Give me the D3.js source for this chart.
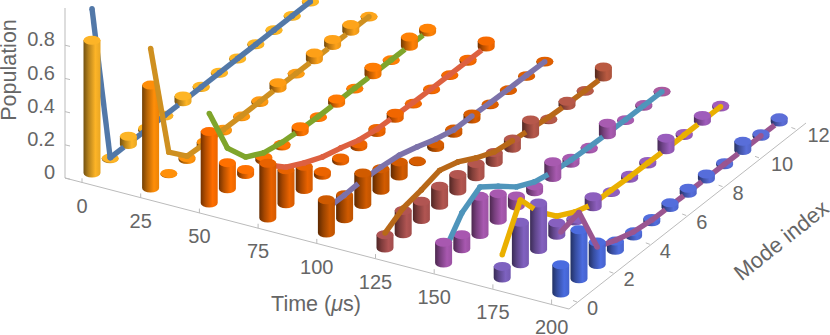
<!DOCTYPE html>
<html><head><meta charset="utf-8">
<script src="https://cdn.jsdelivr.net/npm/d3@7"></script>
<style>html,body{margin:0;padding:0;background:#fff}svg{display:block}text{font-family:"Liberation Sans",Arial,sans-serif;fill:#666}</style>
</head><body><svg id="c" width="830" height="335"></svg>
<script>
const times=[0,25,50,75,100,125,150,175,200];
const modes=[0,1,2,3,4,5,6,7,8,9,10,11,12];
const timeTicks=[0,25,50,75,100,125,150,175,200];
const modeTicks=[0,2,4,6,8,10,12];
const popTicks=[0,0.2,0.4,0.6,0.8];
const bars0=[.80,.004,.05,.012,.004,.035,.008,.006,.006,.006,.005,.005,.004];
const bars25=[.62,.002,.012,.02,.01,.004,.01,.033,.004,.04,.036,.04,.004];
const bars50=[.43,.157,.03,.02,.01,.03,.005,.025,.005,.045,.004,.055,.022];
const bars75=[.33,.205,.14,.022,.018,.018,.024,.03,.004,.005,.004,.012,.036];
const bars100=[.2,.145,.19,.13,.085,.004,.022,.025,.03,.005,.004,.003,.005];
const bars125=[.08,.14,.11,.115,.10,.08,.06,.055,.085,.005,.025,.005,.06];
const bars150=[.125,.085,.23,.16,.06,.035,.095,.03,.01,.07,.005,.01,.005];
const bars175=[.07,.25,.28,.075,.015,.06,.005,.018,.015,.07,.012,.035,.01];
const bars200=[.17,.295,.135,.055,.025,.02,.028,.03,.03,.012,.055,.015,.025];
const line0=[.99,.006,.005,.004,.004,.003,.003,.003,.003,.002,.002,.002,.002];
const line25=[.84,.13,.02,.012,.008,.006,.005,.005,.004,.003,.003,.002,.002];
const line50=[.54,.245,.105,.045,.022,.012,.006,.005,.005,.004,.003,.002,.002];
const line75=[.32,.22,.16,.11,.078,.04,.02,.015,.01,.007,.005,.004,.003];
const line100=[.145,.143,.148,.14,.125,.09,.05,.02,.018,.012,.008,.006,.002];
const line125=[.09,.155,.178,.21,.175,.113,.063,.045,.03,.015,.008,.004,.002];
const line150=[.06,.215,.286,.205,.115,.06,.033,.02,.012,.008,.005,.004,.002];
const line175=[.14,.385,.226,.115,.055,.017,.015,.008,.006,.003,.003,.002,.002];
const line200=[.367,.40,.105,.06,.025,.01,.008,.006,.005,.004,.003,.003,.002];
const barSeries=[bars0,bars25,bars50,bars75,bars100,bars125,bars150,bars175,bars200];
const lineSeries=[line0,line25,line50,line75,line100,line125,line150,line175,line200];
const lineColors=["#5278A8","#CF9020","#7FA52B","#DD6040","#7C72AA","#B86818","#4F95BB","#EAB000","#9A5590"];
const colorStops=[-.1,0,.125,.25,.375,.5,.55,.625,.68,.75,.8,.875,.92,1];
const barColors=["#FFB820","#FDB427","#FF8E08","#FF6E00","#E86200","#CE5A00","#B85A48","#B05454","#A85CB0","#A858B0","#A05CBC","#7E62C0","#5C6ED8","#4A6CE0"];

const svg=d3.select("#c"),defs=svg.append("defs");
const tX=d3.scaleLinear([0,200],[92,92+8*58.6]);
const tY=d3.scaleLinear([0,200],[0,120]);
const mX=d3.scaleLinear([0,12],[0,218.4]);
const mY=d3.scaleLinear([0,12],[173,2]);
const zH=d3.scaleLinear([0,1],[0,166]);
const color=d3.scaleLinear(colorStops,barColors).interpolate(d3.interpolateRgb);
const px=(t,m)=>tX(t)+mX(m), py=(t,m,p)=>tY(t)+mY(m)-zH(p);
const RX=8.5,RY=4.5,LW=5.4,TRIM=.25,FS=20;

// axes
const axisZ=d3.scaleLinear([0,1],[178,12]);
const axisT=d3.scaleLinear([0,200],[82,82+8*58.7]);
const axisTY=d3.scaleLinear([0,200],[182.8,182.8+8*15.15]);
const axisMX=d3.scaleLinear([0,12],[577,795.4]);
const axisMY=d3.scaleLinear([0,12],[302,129]);
const ax=svg.append("g").attr("stroke","#bbb").attr("fill","none");
ax.append("path").attr("d","M65,8L65,178L569,309L806,123");
popTicks.forEach(p=>{ax.append("line").attr("x1",65).attr("x2",70).attr("y1",axisZ(p)).attr("y2",axisZ(p)+1.2);
 svg.append("text").attr("x",55).attr("y",axisZ(p)-6).attr("dy","0.36em").attr("text-anchor","end").attr("font-size",FS).text(p===0?"0":d3.format(".1f")(p));});
timeTicks.forEach(t=>{ax.append("line").attr("x1",axisT(t)).attr("x2",axisT(t)).attr("y1",axisTY(t)).attr("y2",axisTY(t)-4.5);
 svg.append("text").attr("x",axisT(t)).attr("y",axisTY(t)+23).attr("dy","0.36em").attr("text-anchor","middle").attr("font-size",FS).text(t);});
modeTicks.forEach(m=>{ax.append("line").attr("x1",axisMX(m)).attr("x2",axisMX(m)-4).attr("y1",axisMY(m)).attr("y2",axisMY(m)-1.5);
 svg.append("text").attr("x",axisMX(m)+(m<10?10:12)).attr("y",axisMY(m)+6).attr("dy","0.36em").attr("font-size",FS).text(m);});
svg.append("text").attr("transform","translate(16,70) rotate(-90)").attr("text-anchor","middle").attr("font-size",21.5).text("Population");
const tl=svg.append("text").attr("x",316).attr("y",303).attr("dy","0.36em").attr("text-anchor","middle").attr("font-size",21.5);
tl.append("tspan").text("Time (");tl.append("tspan").attr("font-style","italic").text("\u03bc");tl.append("tspan").text("s)");
svg.append("text").attr("transform","translate(781,240) rotate(-38.5)").attr("dy","0.36em").attr("text-anchor","middle").attr("font-size",22).text("Mode index");

// marks
const plot=svg.append("g");
function cyl(si,t,m,p){
 const x=px(t,m),b=py(t,m,0),top=py(t,m,p),c=d3.color(color(t/200-m/12*.08)),id=`g${si}_${m}`;
 const g=defs.append("linearGradient").attr("id",id);
 [[0,.45],[.3,.72],[.7,1],[1,.92]].forEach(([o,k])=>g.append("stop").attr("offset",o).attr("stop-color",d3.rgb(c.r*k,c.g*k,c.b*k)));
 plot.append("path").attr("fill",`url(#${id})`).attr("d",`M${x-RX},${top}L${x-RX},${b}A${RX},${RY} 0 0 0 ${x+RX},${b}L${x+RX},${top}Z`);
 plot.append("ellipse").attr("cx",x).attr("cy",top).attr("rx",RX).attr("ry",RY).attr("fill",c.formatHex());
}
function seg(t,m,vals,barv,col){
 const mix=s=>vals[m+1]+(vals[m]-vals[m+1])*s;
 const hidden=mix(TRIM)<barv[m+1]-.012;
 const s0=hidden?TRIM:0;
 const m0=m+1-s0;
 const x1=px(t,m0),y1=py(t,m0,mix(s0)),x2=px(t,m),y2=py(t,m,vals[m]);
 plot.append("line").attr("x1",x1).attr("y1",y1).attr("x2",x2).attr("y2",y2).attr("stroke",col).attr("stroke-width",LW);
 if(!hidden)plot.append("circle").attr("cx",x1).attr("cy",y1).attr("r",LW/2).attr("fill",col);
 plot.append("circle").attr("cx",x2).attr("cy",y2).attr("r",LW/2).attr("fill",col);
}
times.forEach((t,si)=>{
 const bv=barSeries[si],lv=lineSeries[si],col=lineColors[si];
 [...modes].reverse().forEach(m=>{
  const hasSeg=m<12;
  const nearM=hasSeg?lv[m]+(lv[m+1]-lv[m])*TRIM:lv[m];
  const above=hasSeg&&lv[m]>=bv[m]-.012&&nearM>=bv[m]-.012;
  if(hasSeg&&!above)seg(t,m,lv,bv,col);
  cyl(si,t,m,bv[m]);
  if(hasSeg&&above)seg(t,m,lv,bv,col);
 });
});
</script></body></html>
